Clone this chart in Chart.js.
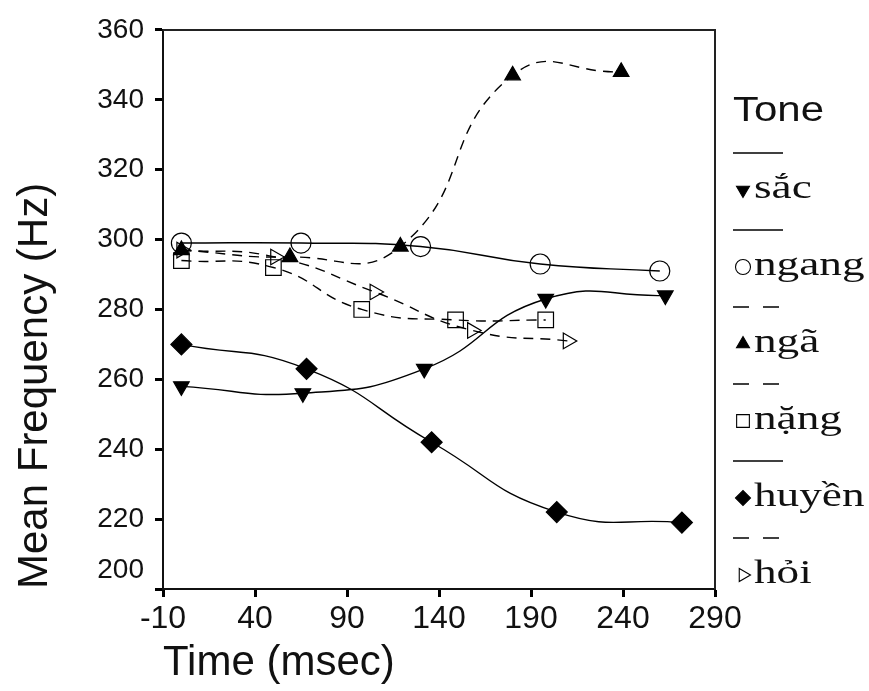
<!DOCTYPE html>
<html>
<head>
<meta charset="utf-8">
<script src="https://cdn.jsdelivr.net/npm/chart.js@4.4.1/dist/chart.umd.min.js"></script>
<style>
  body { margin: 0; background: #fff; }
  #toneChart { display: block; }
</style>
</head>
<body>
<canvas id="toneChart" width="869" height="691"></canvas>
<script>
// mean F0 per tone, sampled at 5 points along the (normalised) syllable
var sacTime = [0, 66, 132, 198, 263];
var sacFreq = [258, 256, 263, 283, 284];

var ngangTime = [0, 65, 130, 195, 260];
var ngangFreq = [299, 299, 298, 293, 291];

var ngaTime = [0, 59, 119, 180, 239];
var ngaFreq = [297, 295, 298, 347, 348];

var nangTime = [0, 50, 98, 149, 198];
var nangFreq = [294, 292, 280, 277, 277];

var huyenTime = [0, 68, 136, 204, 272];
var huyenFreq = [270, 263, 242, 222, 219];

var hoiTime = [0, 51, 105, 158, 210];
var hoiFreq = [297, 295, 285, 274, 271];

var xTicks = [-10, 40, 90, 140, 190, 240, 290];
var yTicks = [200, 220, 240, 260, 280, 300, 320, 340, 360];

function toPoints(times, freqs) {
  return times.map(function(t, i) { return {x: t, y: freqs[i]}; });
}

function tone(label, times, freqs, style, rotation, fillColor, dashed, radius) {
  return {
    label: label,
    data: toPoints(times, freqs),
    borderColor: '#000',
    borderWidth: 1.4,
    borderDash: dashed ? [10, 7] : [],
    tension: 0.5,
    fill: false,
    pointStyle: style,
    pointRotation: rotation,
    pointRadius: radius,
    pointBackgroundColor: fillColor,
    pointBorderColor: '#000',
    pointBorderWidth: 1.2
  };
}

// top and right edge of the plot box
var frameBox = {
  id: 'frameBox',
  beforeDatasetsDraw: function(chart) {
    var a = chart.chartArea, ctx = chart.ctx;
    ctx.save();
    ctx.strokeStyle = '#222';
    ctx.lineWidth = 2;
    ctx.beginPath();
    ctx.moveTo(a.left, a.top);
    ctx.lineTo(a.right, a.top);
    ctx.lineTo(a.right, a.bottom);
    ctx.stroke();
    ctx.restore();
  }
};

// SPSS style legend: line sample on one row, marker + name on the next
var toneLegend = {
  id: 'toneLegend',
  afterDraw: function(chart) {
    var ctx = chart.ctx;
    var x0 = chart.chartArea.right + 18;
    ctx.save();
    ctx.fillStyle = '#111';
    ctx.textBaseline = 'alphabetic';
    ctx.font = '35px "Liberation Sans", Arial, sans-serif';
    ctx.save();
    ctx.translate(x0, 121);
    ctx.scale(1.2, 1);
    ctx.fillText('Tone', 0, 0);
    ctx.restore();

    chart.data.datasets.forEach(function(ds, i) {
      var ly = 153 + i * 77;
      ctx.strokeStyle = '#000';
      ctx.lineWidth = 1.5;
      ctx.setLineDash(ds.borderDash.length ? [16, 14] : []);
      ctx.beginPath();
      ctx.moveTo(x0, ly);
      ctx.lineTo(x0 + 50, ly);
      ctx.stroke();
      ctx.setLineDash([]);

      ctx.fillStyle = ds.pointBackgroundColor;
      ctx.lineWidth = 1.1;
      Chart.helpers.drawPoint(ctx, {
        pointStyle: ds.pointStyle,
        radius: ds.pointStyle === 'rect' ? 9 : 7.5,
        rotation: ds.pointRotation,
        borderWidth: 1.1
      }, x0 + 10, ly + 37);

      ctx.fillStyle = '#111';
      ctx.font = '34px "Liberation Serif", "Times New Roman", serif';
      ctx.save();
      ctx.translate(x0 + 21, ly + 45);
      ctx.scale(1.33, 1);
      ctx.fillText(ds.label, 0, 0);
      ctx.restore();
    });
    ctx.restore();
  }
};

new Chart(document.getElementById('toneChart'), {
  type: 'line',
  data: {
    datasets: [
      tone('sắc', sacTime, sacFreq, 'triangle', 180, '#000', false, 9),
      tone('ngang', ngangTime, ngangFreq, 'circle', 0, 'rgba(0,0,0,0)', false, 10),
      tone('ngã', ngaTime, ngaFreq, 'triangle', 0, '#000', true, 9),
      tone('nặng', nangTime, nangFreq, 'rect', 0, 'rgba(0,0,0,0)', true, 11),
      tone('huyền', huyenTime, huyenFreq, 'rectRot', 0, '#000', false, 10.5),
      tone('hỏi', hoiTime, hoiFreq, 'triangle', 90, 'rgba(0,0,0,0)', true, 9)
    ]
  },
  options: {
    responsive: false,
    animation: false,
    devicePixelRatio: 1,
    layout: { padding: { top: 29, right: 154, bottom: 0, left: 0 } },
    plugins: {
      legend: { display: false },
      tooltip: { enabled: false }
    },
    scales: {
      x: {
        type: 'linear',
        min: -10,
        max: 290,
        afterBuildTicks: function(scale) {
          scale.ticks = xTicks.map(function(v) { return {value: v}; });
        },
        afterFit: function(scale) { scale.height = 102; },
        grid: { drawOnChartArea: false, tickLength: 8, tickWidth: 3, tickColor: '#000' },
        border: { color: '#111', width: 2 },
        ticks: {
          color: '#111',
          padding: 3,
          maxRotation: 0,
          autoSkip: false,
          font: { family: '"Liberation Sans", Arial, sans-serif', size: 32 }
        },
        title: {
          display: true,
          text: 'Time (msec)',
          align: 'start',
          color: '#111',
          padding: { top: 0, bottom: 2 },
          font: { family: '"Liberation Sans", Arial, sans-serif', size: 42 }
        }
      },
      y: {
        min: 200,
        max: 360,
        afterBuildTicks: function(scale) {
          scale.ticks = yTicks.map(function(v) { return {value: v}; });
        },
        afterFit: function(scale) { scale.width = 163; },
        grid: { drawOnChartArea: false, tickLength: 8, tickWidth: 3, tickColor: '#000' },
        border: { color: '#111', width: 2 },
        ticks: {
          color: '#111',
          padding: 11,
          autoSkip: false,
          font: { family: '"Liberation Sans", Arial, sans-serif', size: 28, lineHeight: 1.35 },
          // lowest label sits above its tick so it clears the x labels
          callback: function(v) { return v === 200 ? ['200', ''] : String(v); }
        },
        title: {
          display: true,
          text: 'Mean Frequency (Hz)',
          align: 'start',
          color: '#111',
          padding: { top: 10, bottom: 0 },
          font: { family: '"Liberation Sans", Arial, sans-serif', size: 42 }
        }
      }
    }
  },
  plugins: [frameBox, toneLegend]
});
</script>
</body>
</html>
